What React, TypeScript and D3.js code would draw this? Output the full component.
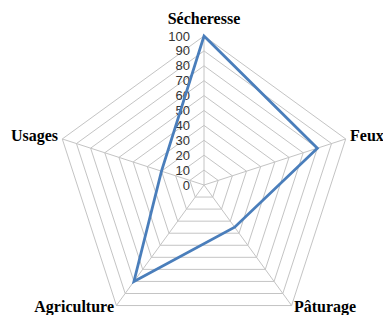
import * as d3 from "d3";

const categories = ["Sécheresse", "Feux", "Pâturage", "Agriculture", "Usages"];
const values = [100, 80, 35, 80, 30];
const ticks = [0, 10, 20, 30, 40, 50, 60, 70, 80, 90, 100];

export default function App() {
  const width = 383;
  const height = 315;
  const cx = 204;
  const cy = 185;
  const R = 149;

  const r = d3.scaleLinear().domain([0, 100]).range([0, R]);
  const angle = d3
    .scalePoint<string>()
    .domain(categories)
    .range([0, (2 * Math.PI * (categories.length - 1)) / categories.length]);

  const pt = (cat: string, v: number): [number, number] => {
    const a = angle(cat)!;
    return [cx + r(v) * Math.sin(a), cy - r(v) * Math.cos(a)];
  };

  const closed = d3.line().curve(d3.curveLinearClosed);
  const grid = ticks.slice(1).map((t) => closed(categories.map((c) => pt(c, t)))!);
  const series = closed(categories.map((c, i) => pt(c, values[i])))!;

  const labelPos: Record<string, { x: number; y: number; anchor: string }> = {
    "Sécheresse": { x: cx, y: 24, anchor: "middle" },
    Feux: { x: 350, y: 141, anchor: "start" },
    "Pâturage": { x: 294, y: 312, anchor: "start" },
    Agriculture: { x: 114, y: 312, anchor: "end" },
    Usages: { x: 58, y: 141, anchor: "end" },
  };

  return (
    <svg
      width={width}
      height={height}
      style={{ position: "absolute", left: 0, top: 0, background: "#fff" }}
    >
      <g fill="none" stroke="#c4c4c4" strokeWidth={1}>
        {grid.map((d, i) => (
          <path key={i} d={d} />
        ))}
        {categories.map((c) => {
          const [x, y] = pt(c, 100);
          return <line key={c} x1={cx} y1={cy} x2={x} y2={y} />;
        })}
      </g>
      <g fontFamily="Liberation Sans, Arial, sans-serif" fontSize={13} fill="#333" textAnchor="end">
        {ticks.map((t) => (
          <text key={t} x={cx - 14} y={cy - r(t)} dy="0.35em">
            {t}
          </text>
        ))}
      </g>
      <path d={series} fill="none" stroke="#4a7ebb" strokeWidth={2.8} strokeLinejoin="miter" />
      <g fontFamily="Liberation Serif, Times New Roman, serif" fontWeight="bold" fontSize={16} fill="#000">
        {categories.map((c) => (
          <text key={c} x={labelPos[c].x} y={labelPos[c].y} textAnchor={labelPos[c].anchor}>
            {c}
          </text>
        ))}
      </g>
    </svg>
  );
}
